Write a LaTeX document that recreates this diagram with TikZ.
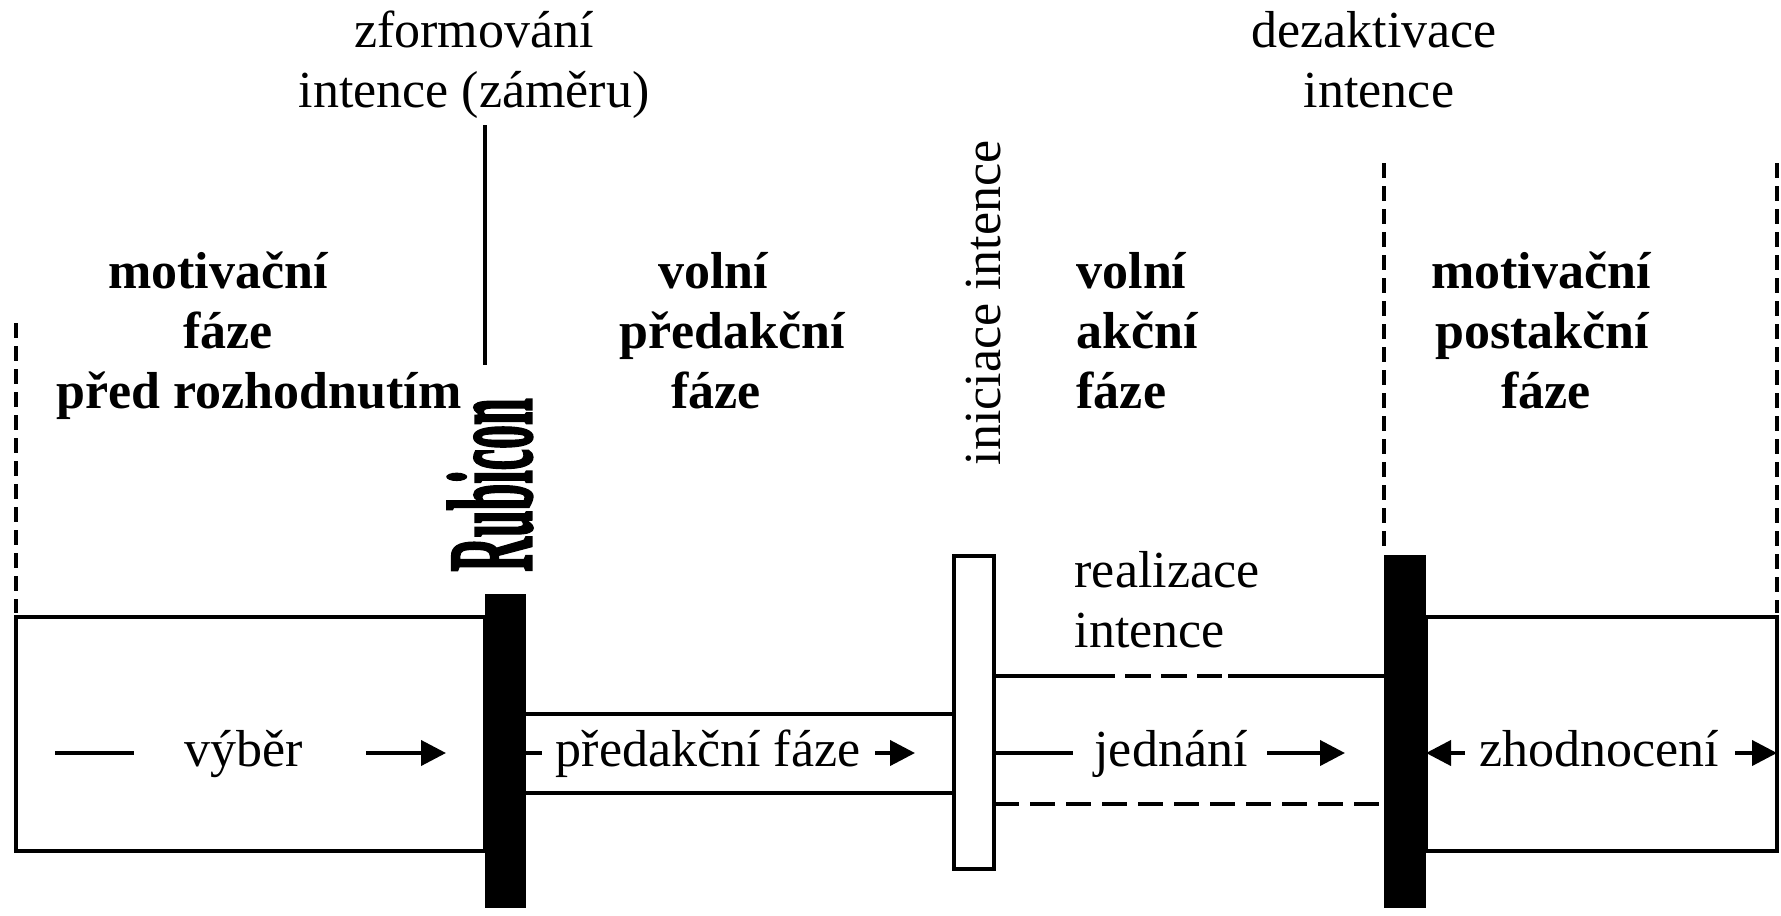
\documentclass[tikz,border=0pt]{standalone}
\usepackage{fontspec}
\setmainfont{Liberation Serif}
\newfontfamily\rubfont[FakeBold=2.5]{Liberation Serif Bold}
\usetikzlibrary{arrows.meta}
\begin{document}
\begin{tikzpicture}[x=0.5pt,y=-0.5pt,
  font=\fontsize{26}{30}\selectfont,
  line width=1.6pt,
  txt/.style={inner sep=0pt, anchor=base},
  txtw/.style={inner sep=0pt, anchor=base west},
  hd/.style={txt, font=\fontsize{26}{30}\selectfont\bfseries},
  hdw/.style={txtw, font=\fontsize{26}{30}\selectfont\bfseries},
  vdash/.style={line width=1.6pt, dash pattern=on 7.5pt off 4pt},
  hdash/.style={line width=1.6pt, dash pattern=on 12.5pt off 5.5pt},
  arr/.style={line width=2pt, -{Triangle[length=12.5pt,width=12.5pt]}},
  bar/.style={fill=black, draw=none}]
\useasboundingbox (0,0) rectangle (1781,915);

% boxes
\draw (16,617) rectangle (485,851);
\draw (1426,617) rectangle (1777,851);
\draw (526,714) -- (954,714);
\draw (526,793) -- (954,793);

% action region
\draw (994,676) -- (1115,676);
\draw (1125,676) -- (1151,676);
\draw (1161,676) -- (1187,676);
\draw (1197,676) -- (1222,676);
\draw (1228,676) -- (1384,676);
\draw[hdash] (994,804) -- (1384,804);

% bars
\fill[bar] (485,594) rectangle (526,908);
\fill[bar] (1384,555) rectangle (1426,908);
\draw[fill=white] (954,556) rectangle (994,869);

% vertical lines
\draw[vdash] (16,323) -- (16,613);
\draw[vdash] (1384,163) -- (1384,553);
\draw[vdash] (1777,163) -- (1777,613);
\draw (485,125) -- (485,365);

% top labels
\node[txt] (zf1) at (474,48) {zformování};
\node[txt] (zf2) at (474,108) {intence (záměru)};
\node[txt] (dz1) at (1374,48) {dezaktivace};
\node[txt] (dz2) at (1379,108) {intence};

% headings
\node[hd] (m1) at (218,288) {motivační};
\node[hd] (m2) at (228,348) {fáze};
\node[hd] (m3) at (259,408) {před rozhodnutím};
\node[hd] (p1) at (713,288) {volní};
\node[hd] (p2) at (732,348) {předakční};
\node[hd] (p3) at (716,408) {fáze};
\node[hdw] (a1) at (1075,288) {volní};
\node[hdw] (a2) at (1075,348) {akční};
\node[hdw] (a3) at (1075,408) {fáze};
\node[hd] (q1) at (1541,288) {motivační};
\node[hd] (q2) at (1542,348) {postakční};
\node[hd] (q3) at (1546,408) {fáze};

\node[txtw] (r1) at (1073,587) {realizace};
\node[txtw] (r2) at (1073,647) {intence};

% rotated labels
\node[rotate=90, anchor=base, inner sep=0pt] (inic) at (1000,303) {iniciace intence};
\node[rotate=90, anchor=base, inner sep=0pt, font=\fontsize{60}{70}\selectfont\rubfont] (rub) at (531,485) {\scalebox{0.40}[1]{Rubicon}};

% middle row
\coordinate (v0) at (55,753);
\coordinate (v1) at (134,753);
\node[txt] (vyber) at (244,766) {výběr};
\coordinate (v2) at (366,753);
\coordinate (v3) at (446,753);
\draw (v0) -- (v1);
\draw[arr] (v2) -- (v3);

\coordinate (p0) at (526,753);
\coordinate (p1) at (542,753);
\node[txt] (pred) at (708,766) {předakční fáze};
\coordinate (pa) at (875,753);
\coordinate (pb) at (915,753);
\draw[line width=2pt] (p0) -- (p1);
\draw[arr] (pa) -- (pb);

\coordinate (j0) at (994,753);
\coordinate (j1) at (1073,753);
\node[txt] (jed) at (1171,766) {jednání};
\coordinate (j2) at (1267,753);
\coordinate (j3) at (1345,753);
\draw (j0) -- (j1);
\draw[arr] (j2) -- (j3);

\coordinate (z0) at (1465,753);
\coordinate (z1) at (1426,753);
\node[txt] (zh) at (1599,766) {zhodnocení};
\coordinate (z2) at (1735,753);
\coordinate (z3) at (1777,753);
\draw[arr] (z0) -- (z1);
\draw[arr] (z2) -- (z3);
\end{tikzpicture}
\end{document}
